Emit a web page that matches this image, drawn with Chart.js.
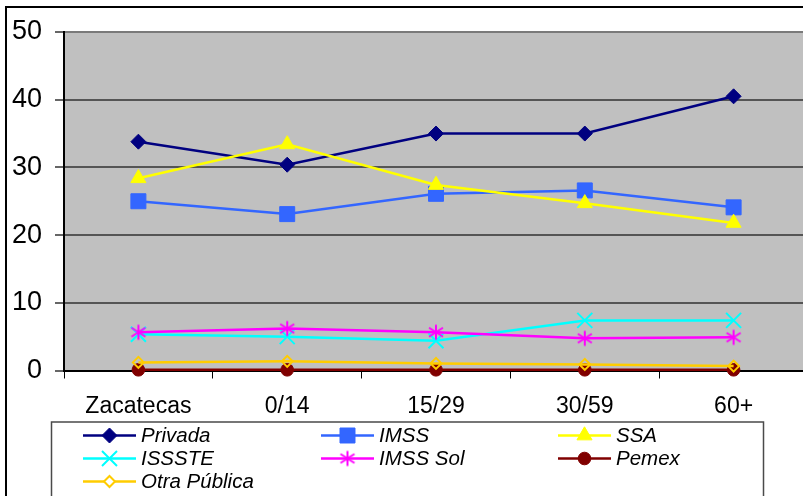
<!DOCTYPE html>
<html>
<head>
<meta charset="utf-8">
<script src="https://cdn.jsdelivr.net/npm/chart.js@4/dist/chart.umd.min.js"></script>
<style>
  html, body { margin: 0; padding: 0; overflow: hidden; background: #fff; }
  canvas { display: block; }
</style>
</head>
<body>
<canvas id="c" width="830" height="520"></canvas>
<script>
// Categories and series values (percent)
const categories = ['Zacatecas', '0/14', '15/29', '30/59', '60+'];
const privada     = [33.8, 30.4, 35.0, 35.0, 40.5];
const imss        = [25.0, 23.1, 26.1, 26.6, 24.1];
const ssa         = [28.4, 33.4, 27.4, 24.7, 21.8];
const issste      = [5.35, 5.0, 4.4, 7.4, 7.4];
const imssSol     = [5.65, 6.2, 5.65, 4.75, 4.9];
const pemex       = [0.1, 0.1, 0.1, 0.1, 0.1];
const otraPublica = [1.2, 1.35, 1.05, 0.9, 0.65];
const yTicks      = [0, 10, 20, 30, 40, 50];

const FONT = "'Liberation Sans', Arial, sans-serif";

// Asterisk marker (vertical stroke plus an X)
function asterisk(color) {
  const c = document.createElement('canvas');
  c.width = 18; c.height = 18;
  const g = c.getContext('2d');
  g.strokeStyle = color; g.lineWidth = 2; g.lineCap = 'butt';
  g.beginPath();
  g.moveTo(9, 1.5); g.lineTo(9, 16.5);
  g.moveTo(2, 4.5); g.lineTo(16, 13.5);
  g.moveTo(2, 13.5); g.lineTo(16, 4.5);
  g.stroke();
  return c;
}

const series = [
  { label: 'Privada',      data: privada,     color: '#000080', style: 'rectRot',  radius: 7.5, fill: true },
  { label: 'IMSS',         data: imss,        color: '#3366FF', style: 'rect',     radius: 10.6, fill: true },
  { label: 'SSA',          data: ssa,         color: '#FFFF00', style: 'triangle', radius: 8.7, fill: true },
  { label: 'ISSSTE',       data: issste,      color: '#00FFFF', style: 'crossRot', radius: 10.6, fill: false },
  { label: 'IMSS Sol',     data: imssSol,     color: '#FF00FF', style: asterisk('#FF00FF'), radius: 8, fill: false },
  { label: 'Pemex',        data: pemex,       color: '#800000', style: 'circle',   radius: 6.3, fill: true },
  { label: 'Otra Pública', data: otraPublica, color: '#FFCC00', style: 'rectRot',  radius: 5.5, fill: false }
];

const datasets = series.map((s, i) => ({
  label: s.label,
  data: s.data,
  borderColor: s.color,
  backgroundColor: s.fill ? s.color : 'rgba(0,0,0,0)',
  borderWidth: 2.5,
  pointStyle: s.style,
  pointRadius: s.radius,
  pointHoverRadius: s.radius,
  pointBorderWidth: s.fill ? 1 : 2,
  pointBorderColor: s.color,
  pointBackgroundColor: s.fill ? s.color : 'rgba(0,0,0,0)',
  tension: 0,
  clip: false,
  order: series.length - i
}));

// Grey plot area and outer frame
const backdrop = {
  id: 'backdrop',
  beforeDraw(chart) {
    const { ctx, chartArea: a } = chart;
    ctx.save();
    ctx.fillStyle = '#C0C0C0';
    ctx.fillRect(a.left, a.top, a.right - a.left, a.bottom - a.top);
    ctx.strokeStyle = '#000';
    ctx.lineWidth = 2;
    ctx.strokeRect(6, 7, 900, 600);
    ctx.restore();
  }
};

// Three-column legend box below the axis
const legendBox = {
  id: 'legendBox',
  afterDraw(chart) {
    const ctx = chart.ctx;
    ctx.save();
    ctx.strokeStyle = '#4a4a4a';
    ctx.lineWidth = 1.5;
    ctx.strokeRect(51.5, 422, 712, 200);
    const colX = [83, 321, 558];
    const rowY = [435.5, 458.5, 481.5];
    series.forEach((s, i) => {
      const x = colX[i % 3], y = rowY[Math.floor(i / 3)];
      ctx.strokeStyle = s.color;
      ctx.lineWidth = 2.5;
      ctx.beginPath();
      ctx.moveTo(x, y); ctx.lineTo(x + 53, y);
      ctx.stroke();
      ctx.fillStyle = s.fill ? s.color : '#fff';
      ctx.lineWidth = s.fill ? 1 : 2;
      Chart.helpers.drawPoint(ctx, {
        pointStyle: s.style, radius: s.radius, rotation: 0, borderWidth: s.fill ? 1 : 2
      }, x + 26.5, y);
      ctx.fillStyle = '#000';
      ctx.font = 'italic 20.5px ' + FONT;
      ctx.textAlign = 'left';
      ctx.textBaseline = 'middle';
      ctx.fillText(s.label, x + 58, y + 1);
    });
    ctx.restore();
  }
};

new Chart(document.getElementById('c'), {
  type: 'line',
  data: { labels: categories, datasets },
  plugins: [backdrop, legendBox],
  options: {
    responsive: false,
    animation: false,
    devicePixelRatio: 1,
    layout: { padding: { left: 0, top: 32, right: 22, bottom: 0 } },
    plugins: { legend: { display: false }, tooltip: { enabled: false } },
    scales: {
      x: {
        offset: true,
        grid: {
          offset: true,
          drawOnChartArea: false,
          drawTicks: true,
          tickLength: 8,
          tickColor: '#000',
          tickWidth: 1
        },
        border: { color: '#000', width: 2 },
        ticks: { color: '#000', font: { family: FONT, size: 23 }, padding: 14, maxRotation: 0 },
        afterFit(scale) { scale.height = 149.5; }
      },
      y: {
        min: 0, max: 50,
        afterBuildTicks(scale) { scale.ticks = yTicks.map(v => ({ value: v })); },
        grid: {
          color: ctx => (ctx.tick && ctx.tick.value === 50) ? '#7a7a7a' : '#555',
          lineWidth: 2,
          tickColor: '#333',
          tickLength: 9,
          tickWidth: 1.5
        },
        border: { color: '#000', width: 2 },
        ticks: { color: '#000', font: { family: FONT, size: 27 }, padding: 13 },
        afterFit(scale) { scale.width = 64; }
      }
    }
  }
});
</script>
</body>
</html>
